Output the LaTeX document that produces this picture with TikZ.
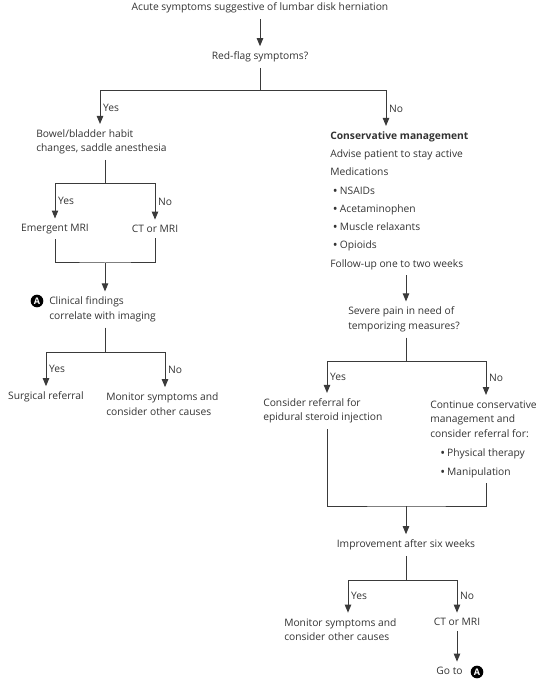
\documentclass[tikz,border=0pt]{standalone}
\usepackage{fontspec}
\setmainfont{Open Sans}
\usetikzlibrary{arrows.meta,positioning,calc}
\definecolor{ink}{HTML}{333333}
\definecolor{wire}{HTML}{3A3A3A}
\newcommand{\bul}{\raisebox{-0.7pt}{\fontsize{9.6}{1}\selectfont\textbullet}}

\begin{document}
\begin{tikzpicture}[x=0.75pt, y=-0.75pt, font=\fontsize{7.7}{10.9}\selectfont,
  txt/.style={inner xsep=0pt, inner ysep=4pt, text=ink},
  lbox/.style={txt, align=left},
  arr/.style={wire, line width=0.75pt, -{Triangle[length=6pt,width=4.8pt]}},
  wireline/.style={wire, line width=0.75pt},
  tag/.style={inner xsep=2pt, inner ysep=0pt, text=ink, right},
  badge/.style={circle, fill=black, text=white, inner sep=0pt, minimum size=9.5pt, font=\fontsize{6.8}{7}\selectfont\bfseries}]
  \useasboundingbox (0,0) rectangle (550,680);

  % top of the chart
  \node[txt] (start) at (260,8) {Acute symptoms suggestive of lumbar disk herniation};
  \node[txt] (redflag) at (260,57) {Red-flag symptoms?};
  \draw[arr] (start) -- (redflag);
  \coordinate (rfSplit) at (260,91);
  \coordinate (rfL) at (100,91);
  \coordinate (rfR) at (386,91);

  % left branch
  \node[lbox, anchor=west] (bowel) at (36,142) {Bowel/bladder habit\\changes, saddle anesthesia};
  \node[txt] (emri) at (55,229) {Emergent MRI};
  \node[txt] (ctmri) at (155,229) {CT or MRI};
  \node[lbox, anchor=west] (clinical) at (49,309.5) {Clinical findings\\correlate with imaging};
  \node[badge] (markA) at (37,301) {A};
  \node[txt] (surgical) at (46,397) {Surgical referral};
  \node[lbox, anchor=west] (monitorA) at (106,404) {Monitor symptoms and\\consider other causes};

  \coordinate (bwSplit) at (105,184);
  \coordinate (imgMerge) at (105,263);
  \coordinate (clSplit) at (105,352);
  \coordinate (clR) at (165,352);

  \draw[wireline] (redflag) -- (rfSplit);
  \draw[arr] (rfSplit) -| node[tag, pos=0.75]{Yes} (rfL |- bowel.north);
  \draw[wireline] (bowel.south -| bwSplit) -- (bwSplit);
  \draw[arr] (bwSplit) -| node[tag, pos=0.75]{Yes} (emri);
  \draw[arr] (bwSplit) -| node[tag, pos=0.75]{No} (ctmri);
  \draw[wireline] (emri) |- (imgMerge) -| (ctmri);
  \draw[arr] (imgMerge) -- (imgMerge |- clinical.north);
  \draw[wireline] (clinical.south -| clSplit) -- (clSplit);
  \draw[arr] (clSplit) -| node[tag, pos=0.75]{Yes} (surgical);
  \draw[arr] (clSplit) -| node[tag, pos=0.75]{No} (clR |- monitorA.north);

  % right branch
  \node[lbox, anchor=north west, font=\fontsize{7.7}{13.7}\selectfont] (cons) at (330,126)
    {\textbf{Conservative management}\\
     Advise patient to stay active\\
     Medications\\
     \hspace*{2pt}\bul\hspace{1.6pt}NSAIDs\\
     \hspace*{2pt}\bul\hspace{1.6pt}Acetaminophen\\
     \hspace*{2pt}\bul\hspace{1.6pt}Muscle relaxants\\
     \hspace*{2pt}\bul\hspace{1.6pt}Opioids\\
     Follow-up one to two weeks};
  \node[lbox, anchor=west] (severe) at (348,319.5) {Severe pain in need of\\temporizing measures?};
  \node[lbox, anchor=west] (epidural) at (263,411) {Consider referral for\\epidural steroid injection};
  \node[lbox, anchor=north west] (cont) at (430,395)
    {Continue conservative\\
     management and\\
     consider referral for:\\[3.3pt]
     \hspace*{7.5pt}\bul\hspace{1.6pt}Physical therapy\\[3.3pt]
     \hspace*{7.5pt}\bul\hspace{1.6pt}Manipulation};
  \node[txt] (improve) at (406,545) {Improvement after six weeks};
  \node[lbox, anchor=west] (monitorB) at (284,629.5) {Monitor symptoms and\\consider other causes};
  \node[txt] (ctmriB) at (457,622) {CT or MRI};
  \node[txt] (goto) at (449.5,671) {Go to};
  \node[badge] (markB) at (477,672) {A};

  \coordinate (rcol) at (406,0);
  \coordinate (svSplit) at (406,361);
  \coordinate (svL) at (327,361);
  \coordinate (svR) at (486,361);
  \coordinate (trMerge) at (406,506);
  \coordinate (imSplit) at (406,580);
  \coordinate (imL) at (348,580);

  \draw[arr] (rfSplit) -| node[tag, pos=0.75]{No} (rfR |- cons.north);
  \draw[arr] (cons.south -| rcol) -- (rcol |- severe.north);
  \draw[wireline] (severe.south -| svSplit) -- (svSplit);
  \draw[arr] (svSplit) -| node[tag, pos=0.75]{Yes} (svL |- epidural.north);
  \draw[arr] (svSplit) -| node[tag, pos=0.75]{No} (svR |- cont.north);
  \draw[wireline] (epidural.south -| svL) |- (trMerge) -| (cont.south -| svR);
  \draw[arr] (trMerge) -- (improve);
  \draw[wireline] (improve) -- (imSplit);
  \draw[arr] (imSplit) -| node[tag, pos=0.75]{Yes} (imL |- monitorB.north);
  \draw[arr] (imSplit) -| node[tag, pos=0.75]{No} (ctmriB);
  \draw[arr] (ctmriB) -- (ctmriB |- goto.north);
\end{tikzpicture}
\end{document}
